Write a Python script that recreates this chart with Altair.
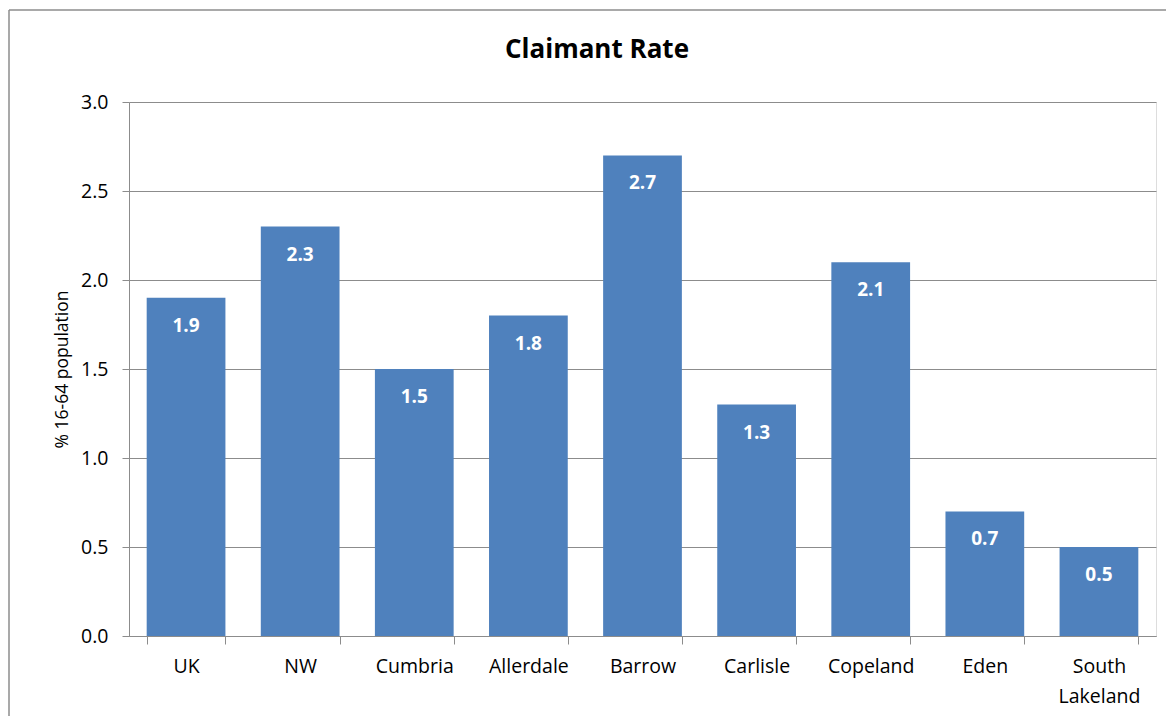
import altair as alt
import pandas as pd

categories = ["UK", "NW", "Cumbria", "Allerdale", "Barrow", "Carlisle", "Copeland", "Eden", "South Lakeland"]
values = [1.9, 2.3, 1.5, 1.8, 2.7, 1.3, 2.1, 0.7, 0.5]
labels = ["1.9", "2.3", "1.5", "1.8", "2.7", "1.3", "2.1", "0.7", "0.5"]
chart_title = "Claimant Rate"

df = pd.DataFrame({"area": categories, "rate": values, "label": labels})

FONT = "Open Sans"
GRID = "#8c8c8c"

x = alt.X("area:N", sort=categories, title=None,
          scale=alt.Scale(paddingInner=0.31, paddingOuter=0.155),
          axis=alt.Axis(labelAngle=0, labelFontSize=19.5, labelColor="#000000", labelFont=FONT,
                        labelPadding=13, tickBand="extent", tickSize=8, tickColor=GRID,
                        domainColor=GRID, labelLineHeight=30,
                        labelExpr="datum.label == 'South Lakeland' ? ['South', 'Lakeland'] : datum.label"))
y = alt.Y("rate:Q", title="% 16-64 population",
          scale=alt.Scale(domain=[0, 3]),
          axis=alt.Axis(values=[0, 0.5, 1, 1.5, 2, 2.5, 3], format=".1f", labelFontSize=19.5,
                        labelFont=FONT, labelColor="#000000", labelPadding=14, tickSize=7,
                        tickColor=GRID, domainColor=GRID, gridColor=GRID, grid=True,
                        titleFontSize=17.5, titleFont=FONT, titleFontWeight="normal",
                        titleColor="#000000", titlePadding=9))

bars = alt.Chart(df).mark_bar(color="#4F81BD").encode(x=x, y=y)
text = alt.Chart(df).mark_text(color="white", fontWeight="bold", fontSize=19, font=FONT,
                               baseline="middle", dy=28).encode(
    x=alt.X("area:N", sort=categories), y="rate:Q", text="label:N")

one = pd.DataFrame({"t": [chart_title]})
border_left = alt.Chart(one).mark_rule(color="#8c8c8c", strokeWidth=1.5, clip=False).encode(
    x=alt.value(-120), y=alt.value(-92), y2=alt.value(700))
border_top = alt.Chart(one).mark_rule(color="#8c8c8c", strokeWidth=1.5, clip=False).encode(
    x=alt.value(-120), x2=alt.value(1100), y=alt.value(-92))
title = alt.Chart(one).mark_text(fontSize=26, font=FONT, fontWeight="bold", color="#000000",
                                 baseline="middle", align="center").encode(
    x=alt.value(468), y=alt.value(-52), text="t:N")

chart = alt.layer(border_left, border_top, bars, text, title).properties(
    width=1027, height=534,
    autosize=alt.AutoSizeParams(type="none"),
    padding={"left": 121, "top": 94, "right": 10, "bottom": 80},
).configure_view(stroke=None).configure(background="white")

chart.save("out.html", embed_options={"renderer": "svg", "actions": False})
